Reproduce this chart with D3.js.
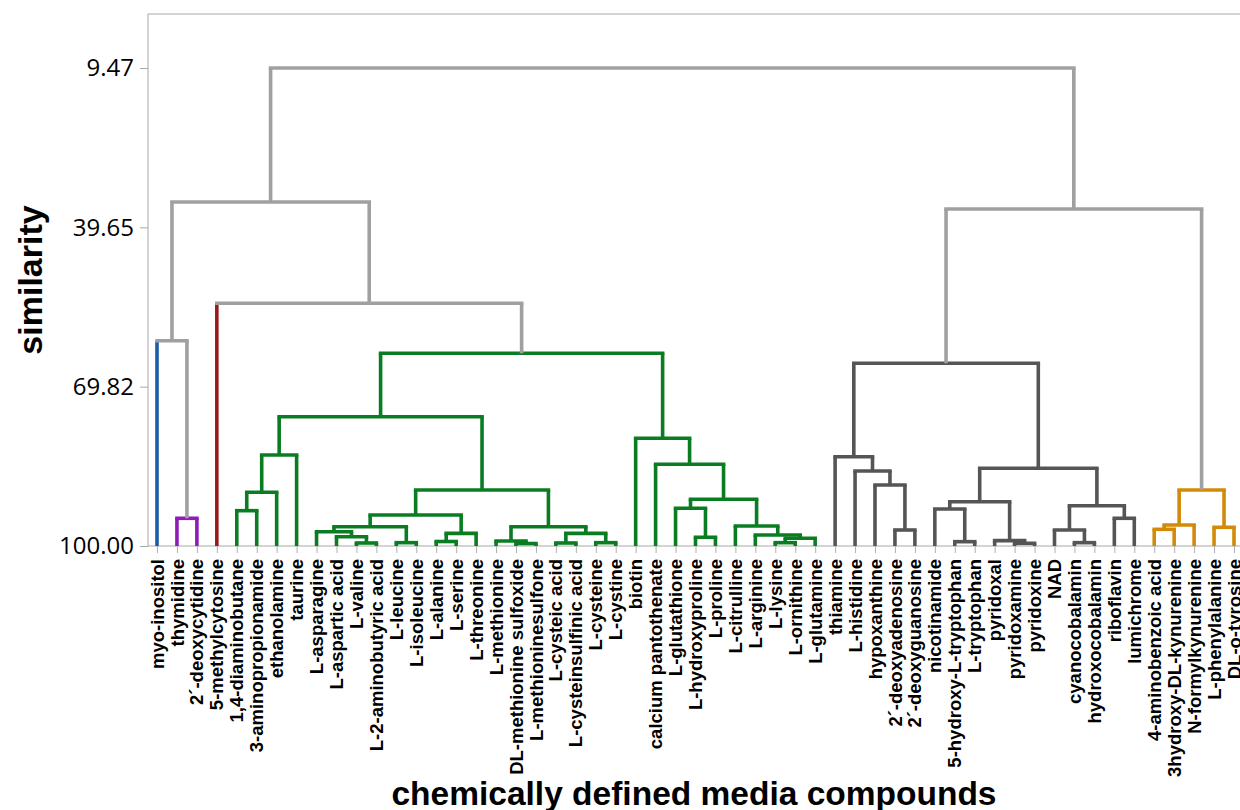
<!DOCTYPE html>
<html>
<head>
<meta charset="utf-8">
<script src="https://cdn.jsdelivr.net/npm/d3@7"></script>
<style>
  body { margin: 0; background: #fff; }
  svg { display: block; }
  .ytick text { font-family: "Open Sans", "Noto Sans", sans-serif; font-size: 24px; fill: #000; }
  .xtick text { font-family: "Liberation Sans", Arial, sans-serif; font-weight: bold; font-size: 18.5px; fill: #000; }
  .title { font-family: "Liberation Sans", Arial, sans-serif; font-weight: bold; fill: #000; }
</style>
</head>
<body>
<div id="chart"></div>
<script>
// leaves, left to right
const leaves = [
  "myo-inositol", "thymidine", "2´-deoxycytidine", "5-methylcytosine",
  "1,4-diaminobutane", "3-aminopropionamide", "ethanolamine", "taurine",
  "L-asparagine", "L-aspartic acid", "L-valine", "L-2-aminobutyric acid",
  "L-leucine", "L-isoleucine", "L-alanine", "L-serine", "L-threonine",
  "L-methionine", "DL-methionine sulfoxide", "L-methioninesulfone",
  "L-cysteic acid", "L-cysteinsulfinic acid", "L-cysteine", "L-cystine",
  "biotin", "calcium pantothenate", "L-glutathione", "L-hydroxyproline",
  "L-proline", "L-citrulline", "L-arginine", "L-lysine", "L-ornithine",
  "L-glutamine", "thiamine", "L-histidine", "hypoxanthine",
  "2´-deoxyadenosine", "2´-deoxyguanosine", "nicotinamide",
  "5-hydroxy-L-tryptophan", "L-tryptophan", "pyridoxal", "pyridoxamine",
  "pyridoxine", "NAD", "cyanocobalamin", "hydroxocobalamin", "riboflavin",
  "lumichrome", "4-aminobenzoic acid", "3hydroxy-DL-kynurenine",
  "N-formylkynurenine", "L-phenylalanine", "DL-o-tyrosine"
];

// consecutive leaves per cluster
const clusterSizes = [
  ["inositol", 1], ["nucleoside", 2], ["cytosine", 1],
  ["amino", 30], ["vitamin", 16], ["aromatic", 5]
];

// merges: [child a, child b, similarity, cluster]; ids < 55 are leaves, merge k gets id 55 + k
const merges = [
  [1, 2, 94.75, "nucleoside"],
  [0, 55, 61.12, "upper"],
  [4, 5, 93.31, "amino"],
  [57, 6, 89.83, "amino"],
  [58, 7, 82.77, "amino"],
  [10, 11, 99.43, "amino"],
  [9, 60, 98.24, "amino"],
  [8, 61, 97.29, "amino"],
  [12, 13, 99.37, "amino"],
  [62, 63, 96.34, "amino"],
  [14, 15, 99.15, "amino"],
  [65, 16, 97.60, "amino"],
  [64, 66, 94.13, "amino"],
  [18, 19, 99.53, "amino"],
  [17, 68, 99.05, "amino"],
  [20, 21, 99.43, "amino"],
  [22, 23, 99.37, "amino"],
  [70, 71, 97.60, "amino"],
  [69, 72, 96.34, "amino"],
  [67, 73, 89.39, "amino"],
  [59, 74, 75.51, "amino"],
  [27, 28, 98.35, "amino"],
  [26, 76, 92.86, "amino"],
  [31, 32, 99.37, "amino"],
  [78, 33, 98.54, "amino"],
  [30, 79, 97.92, "amino"],
  [29, 80, 96.21, "amino"],
  [77, 81, 91.16, "amino"],
  [25, 82, 84.53, "amino"],
  [24, 83, 79.60, "amino"],
  [75, 84, 63.50, "amino"],
  [3, 85, 54.03, "upper"],
  [56, 86, 34.85, "upper"],
  [37, 38, 96.97, "vitamin"],
  [36, 88, 88.45, "vitamin"],
  [35, 89, 85.80, "vitamin"],
  [34, 90, 83.09, "vitamin"],
  [40, 41, 99.18, "vitamin"],
  [39, 92, 92.99, "vitamin"],
  [43, 44, 99.49, "vitamin"],
  [42, 94, 98.99, "vitamin"],
  [93, 95, 91.61, "vitamin"],
  [46, 47, 99.37, "vitamin"],
  [45, 97, 96.97, "vitamin"],
  [48, 49, 94.75, "vitamin"],
  [98, 99, 92.37, "vitamin"],
  [96, 100, 85.28, "vitamin"],
  [91, 101, 65.40, "vitamin"],
  [50, 51, 96.84, "aromatic"],
  [103, 52, 96.02, "aromatic"],
  [53, 54, 96.46, "aromatic"],
  [104, 105, 89.39, "aromatic"],
  [102, 106, 36.17, "upper"],
  [87, 107, 9.47, "upper"]
];

const yTicks = [9.47, 39.65, 69.82, 100];

const clusterColor = {
  upper: "#a0a0a0", inositol: "#1a5ca8", nucleoside: "#8e1cb8",
  cytosine: "#981a1a", amino: "#0a7d22", vitamin: "#555555", aromatic: "#d38a08"
};

const width = 1240, height = 810;
const plot = { left: 148, top: 14, right: 1240, bottom: 546 };

const svg = d3.select("#chart").append("svg")
  .attr("width", width).attr("height", height);

const x = d3.scalePoint().domain(leaves).range([157, 1234]);
const y = d3.scaleLinear().domain([100, 9.47]).range([plot.bottom, 68]);

// frame
svg.append("path")
  .attr("d", `M${plot.right},${plot.top}H${plot.left}V${plot.bottom}H${plot.right}`)
  .attr("fill", "none").attr("stroke", "#a8a8a8").attr("stroke-width", 1);

// y axis
const yAxis = svg.append("g").attr("class", "ytick")
  .attr("transform", `translate(${plot.left},0)`)
  .call(d3.axisLeft(y).tickValues(yTicks).tickFormat(d3.format(".2f")).tickSize(8).tickPadding(6));
yAxis.select(".domain").remove();
yAxis.selectAll("line").attr("stroke", "#a8a8a8");

// x axis with rotated names
const xAxis = svg.append("g").attr("class", "xtick")
  .attr("transform", `translate(0,${plot.bottom})`)
  .call(d3.axisBottom(x).tickSize(7));
xAxis.select(".domain").remove();
xAxis.selectAll("line").attr("stroke", "#b0b0b0");
xAxis.selectAll("text")
  .attr("transform", "rotate(-90)")
  .attr("x", -13).attr("y", 0).attr("dy", "0.33em")
  .attr("text-anchor", "end");

// cluster of every leaf
const leafCluster = clusterSizes.flatMap(([name, n]) => d3.range(n).map(() => name));

// node positions
const nodes = leaves.map((name, i) => ({ x: x(name), y: y(100), leaf: true, cluster: leafCluster[i] }));
merges.forEach(([a, b, sim, cluster]) => {
  nodes.push({ x: (nodes[a].x + nodes[b].x) / 2, y: y(sim), leaf: false, cluster, a, b });
});

const sw = 3.6;
const links = svg.append("g").attr("fill", "none").attr("stroke-width", sw);

nodes.filter(n => !n.leaf).forEach(n => {
  [nodes[n.a], nodes[n.b]].forEach(c => {
    links.append("line")
      .attr("x1", c.x).attr("x2", c.x).attr("y1", c.y).attr("y2", n.y)
      .attr("stroke", clusterColor[c.leaf ? c.cluster : n.cluster]);
  });
  links.append("line")
    .attr("x1", nodes[n.a].x).attr("x2", nodes[n.b].x).attr("y1", n.y).attr("y2", n.y)
    .attr("stroke", clusterColor[n.cluster])
    .attr("stroke-linecap", "square");
});

// titles
svg.append("text").attr("class", "title")
  .attr("transform", "translate(42,280) rotate(-90)")
  .attr("text-anchor", "middle")
  .style("font-size", "34px")
  .text("similarity");

svg.append("text").attr("class", "title")
  .attr("x", 694).attr("y", 805)
  .attr("text-anchor", "middle")
  .style("font-size", "33.5px")
  .text("chemically defined media compounds");
</script>
</body>
</html>
